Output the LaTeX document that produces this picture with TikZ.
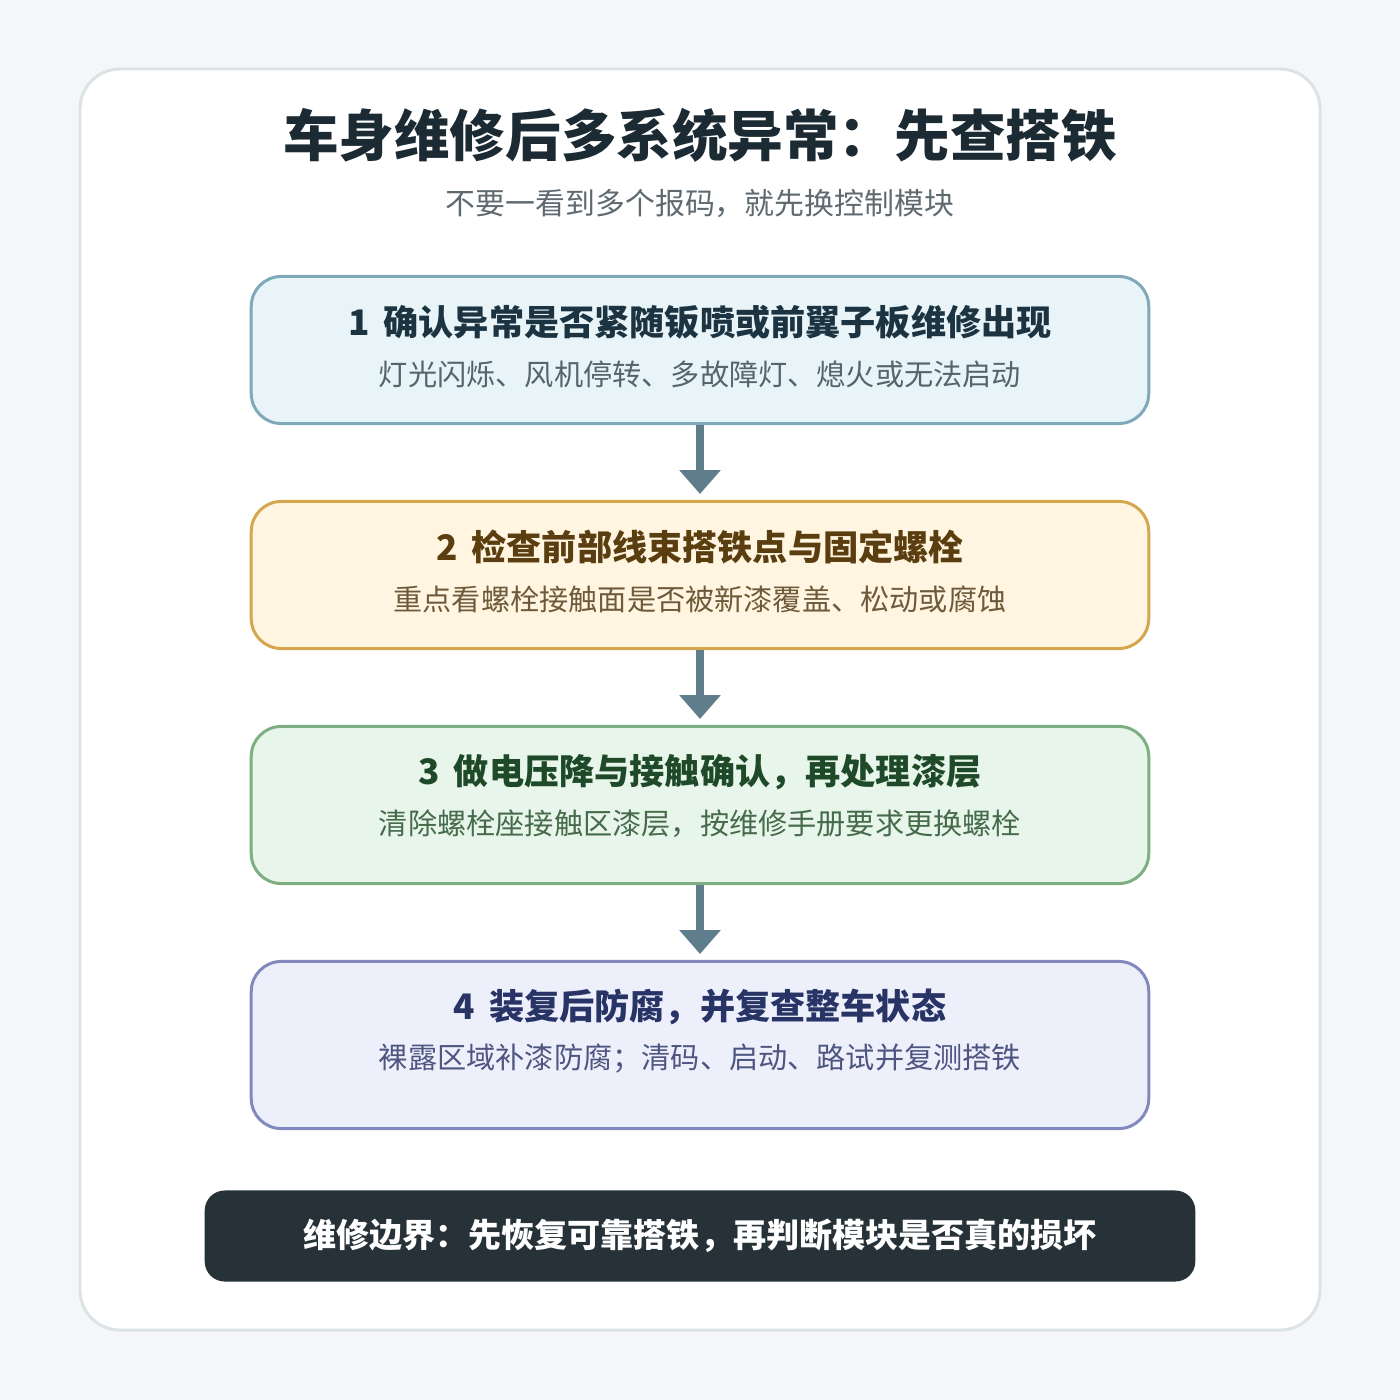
\documentclass[tikz,border=0pt]{standalone}
\usepackage{fontspec}
\setmainfont{Noto Sans CJK SC}
\usetikzlibrary{positioning, arrows.meta}

\definecolor{pagebg}{HTML}{F4F6F8}
\definecolor{cardline}{HTML}{DCE3E6}
\definecolor{ink}{HTML}{1B2A33}
\definecolor{subink}{HTML}{5E6A70}
\definecolor{arrowgrey}{HTML}{607D8B}
\definecolor{bannerbg}{HTML}{263238}
% Farben der Schritte
\definecolor{oneline}{HTML}{7FA8BA}\definecolor{onefill}{HTML}{E8F4F8}
\definecolor{onetext}{HTML}{1C3442}\definecolor{onesub}{HTML}{55656D}
\definecolor{twoline}{HTML}{D4A64E}\definecolor{twofill}{HTML}{FFF5E0}
\definecolor{twotext}{HTML}{5B3E10}\definecolor{twosub}{HTML}{6E5A3A}
\definecolor{threeline}{HTML}{7DAF82}\definecolor{threefill}{HTML}{E8F5EA}
\definecolor{threetext}{HTML}{1F4A29}\definecolor{threesub}{HTML}{456B4B}
\definecolor{fourline}{HTML}{8289BE}\definecolor{fourfill}{HTML}{EDF0FB}
\definecolor{fourtext}{HTML}{283366}\definecolor{foursub}{HTML}{4E5580}

\newcommand{\stepno}[1]{#1\hspace{0.4em}}

\tikzset{
  stepbox/.style={draw, rounded corners=30*0.01cm, line width=0.85pt,
    minimum width=8.97cm, inner sep=0pt},
  steptitle/.style={font=\fontsize{10}{12}\selectfont\bfseries, inner sep=0pt},
  stepnote/.style={font=\fontsize{8.3}{10}\selectfont, inner sep=0pt},
  flow/.style={draw=arrowgrey, line width=2.3pt,
    -{Triangle[width=11.4pt, length=6.8pt]}, shorten >=6*0.01cm},
}

\begin{document}
\begin{tikzpicture}[x=0.01cm, y=-0.01cm]
            % Hintergrund und Karte
            \fill[pagebg] (0,0) rectangle (1400,1400);
            \filldraw[fill=white, draw=cardline, line width=0.85pt, rounded corners=40*0.01cm]
              (80,69) rectangle (1320,1330);

            % Überschrift
            \node[ink, font=\fontsize{15.8}{19}\selectfont\bfseries] (title) at (700,135)
              {车身维修后多系统异常：先查搭铁};
            \node[subink, font=\fontsize{8.5}{10}\selectfont] (subtitle) at (700,204)
              {不要一看到多个报码，就先换控制模块};

            % Schritte
            \node[stepbox, draw=oneline, fill=onefill, minimum height=1.47cm] (s1) at (700,350) {};
            \node[steptitle, onetext] (s1t) at (700,322) {\stepno{1}确认异常是否紧随钣喷或前翼子板维修出现};
            \node[stepnote, onesub] (s1n) at (700,374) {灯光闪烁、风机停转、多故障灯、熄火或无法启动};

            \node[stepbox, draw=twoline, fill=twofill, minimum height=1.47cm] (s2) at (700,575) {};
            \node[steptitle, twotext] (s2t) at (700,547) {\stepno{2}检查前部线束搭铁点与固定螺栓};
            \node[stepnote, twosub] (s2n) at (700,599) {重点看螺栓接触面是否被新漆覆盖、松动或腐蚀};

            \node[stepbox, draw=threeline, fill=threefill, minimum height=1.57cm] (s3) at (700,805) {};
            \node[steptitle, threetext] (s3t) at (700,772) {\stepno{3}做电压降与接触确认，再处理漆层};
            \node[stepnote, threesub] (s3n) at (700,824) {清除螺栓座接触区漆层，按维修手册要求更换螺栓};

            \node[stepbox, draw=fourline, fill=fourfill, minimum height=1.67cm] (s4) at (700,1045) {};
            \node[steptitle, fourtext] (s4t) at (700,1007) {\stepno{4}装复后防腐，并复查整车状态};
            \node[stepnote, foursub] (s4n) at (700,1059) {裸露区域补漆防腐；清码、启动、路试并复测搭铁};

            % Pfeile
            \draw[flow] (s1.south) -- (s2.north);
            \draw[flow] (s2.south) -- (s3.north);
            \draw[flow] (s3.south) -- (s4.north);

            % Fußzeile
            \node[fill=bannerbg, rounded corners=20*0.01cm, minimum width=9.9cm, minimum height=0.91cm,
              text=white, font=\fontsize{9.4}{11}\selectfont\bfseries] (banner) at (700,1236)
              {维修边界：先恢复可靠搭铁，再判断模块是否真的损坏};
        \end{tikzpicture}
\end{document}
